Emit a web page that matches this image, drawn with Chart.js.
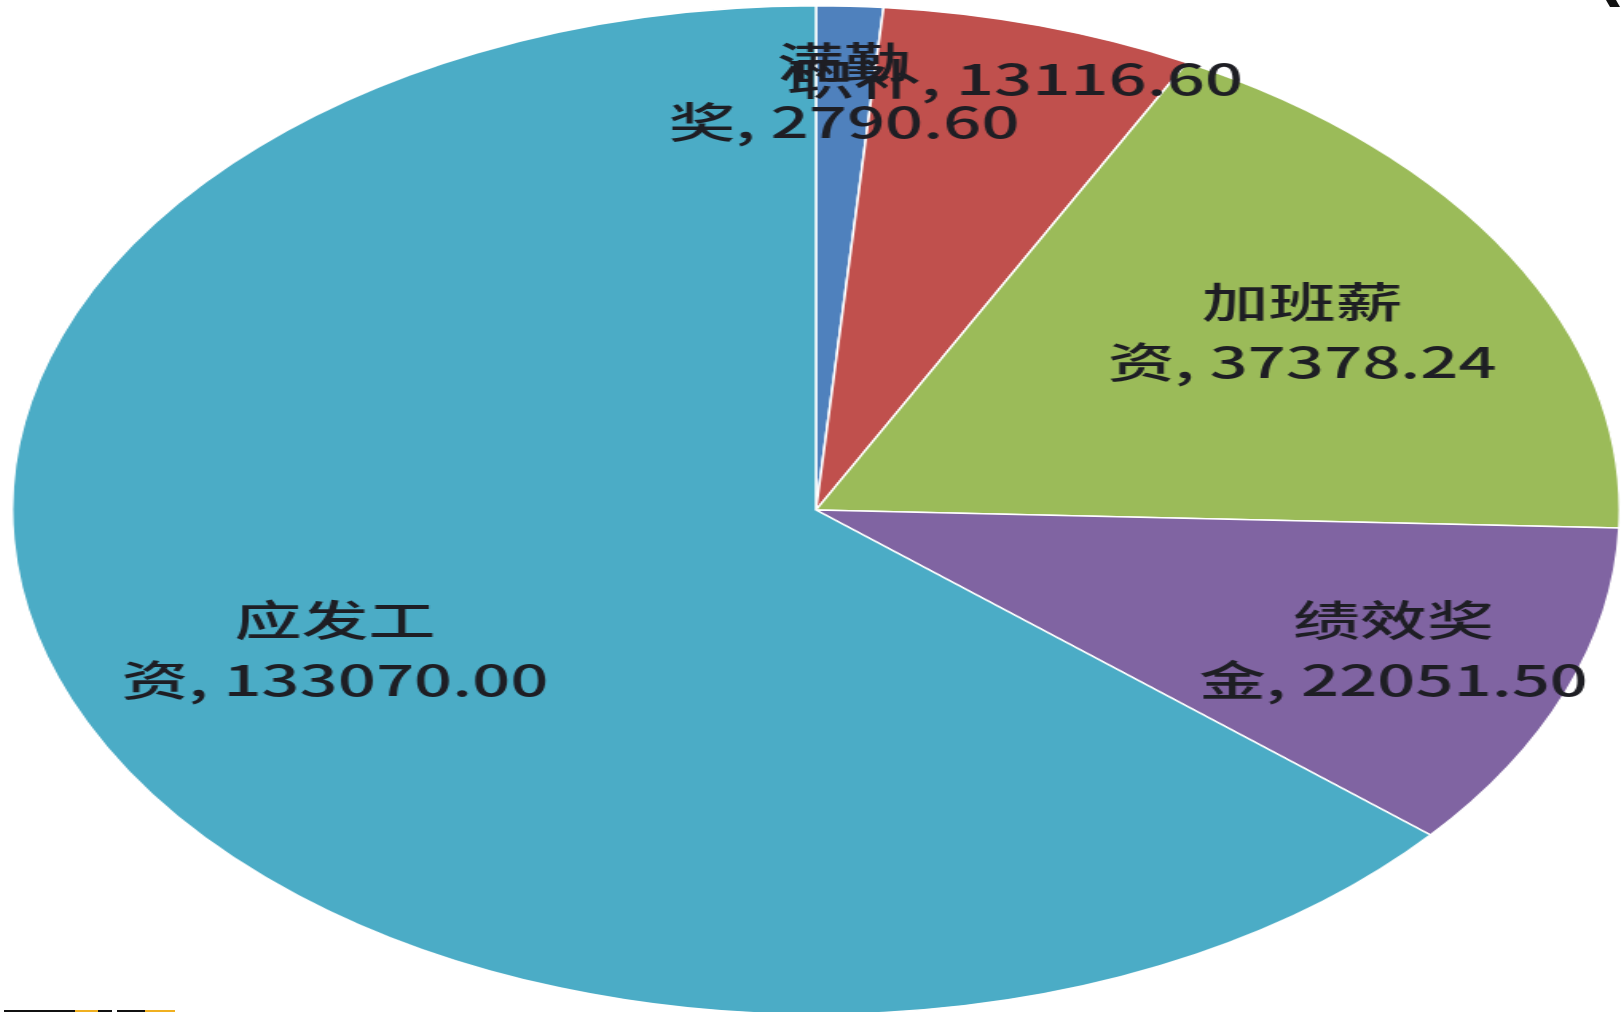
<!DOCTYPE html>
<html lang="zh">
<head>
  <meta charset="UTF-8">
  <title>工资构成</title>
  <script src="https://cdn.jsdelivr.net/npm/chart.js"></script>
  <style>
    html, body { margin: 0; padding: 0; background: #fff; overflow: hidden; }
    body { width: 1623px; height: 1012px; position: relative; }
    /* pie is drawn round, then stretched into the ellipse of the original */
    #wrap { position: absolute; left: 11px; top: 5px; width: 1010px; height: 1010px;
            transform: scale(1.594, 1); transform-origin: 0 0; }
    .mark { position: absolute; height: 2px; }
  </style>
</head>
<body>
  <div id="wrap"><canvas id="payChart"></canvas></div>
  <!-- small leftovers visible at the edges of the picture -->
  <div class="mark" style="left:4px;top:1010px;width:71px;background:#111"></div>
  <div class="mark" style="left:75px;top:1010px;width:23px;background:#f0b020"></div>
  <div class="mark" style="left:98px;top:1010px;width:14px;background:#111"></div>
  <div class="mark" style="left:117px;top:1010px;width:28px;background:#111"></div>
  <div class="mark" style="left:145px;top:1010px;width:30px;background:#f0b020"></div>
  <div style="position:absolute;left:1608px;top:0;width:10px;height:7px;background:#111;transform:skewX(30deg)"></div>

  <script>
    const categories = ['满勤奖', '职补', '加班薪资', '绩效奖金', '应发工资'];
    const amounts = [2790.60, 13116.60, 37378.24, 22051.50, 133070.00];
    const sliceColors = ['#4f81bd', '#c0504d', '#9bbb59', '#8064a2', '#4bacc6'];

    // how far out (share of radius) each label sits
    const labelRadius = [0.83, 0.89, 0.70, 0.77, 0.66];

    function labelLines(name, value) {
      const v = value.toFixed(2);
      if (name.length < 3) return [name + ', ' + v];
      // Excel wrapped the last character of the name onto the value line
      return [name.slice(0, -1), name.slice(-1) + ', ' + v];
    }

    const sliceLabels = {
      id: 'sliceLabels',
      afterDatasetsDraw(chart) {
        const ctx = chart.ctx;
        const meta = chart.getDatasetMeta(0);
        ctx.save();
        ctx.font = '500 42px "Noto Sans CJK SC", "Noto Sans", sans-serif';
        ctx.fillStyle = '#1e1e24';
        ctx.textAlign = 'center';
        ctx.textBaseline = 'middle';
        meta.data.forEach((arc, i) => {
          const mid = (arc.startAngle + arc.endAngle) / 2;
          const r = arc.outerRadius * labelRadius[i];
          const x = arc.x + Math.cos(mid) * r;
          const y = arc.y + Math.sin(mid) * r;
          const lines = labelLines(categories[i], amounts[i]);
          const lh = 60;
          const y0 = y - (lines.length - 1) * lh / 2;
          lines.forEach((t, k) => ctx.fillText(t, x, y0 + k * lh));
        });
        ctx.restore();
      }
    };

    new Chart(document.getElementById('payChart'), {
      type: 'pie',
      data: {
        labels: categories,
        datasets: [{
          data: amounts,
          backgroundColor: sliceColors,
          borderColor: '#ffffff',
          borderWidth: 1.5
        }]
      },
      options: {
        responsive: true,
        maintainAspectRatio: true,
        aspectRatio: 1,
        animation: false,
        layout: { padding: 0 },
        plugins: {
          legend: { display: false },
          tooltip: { enabled: false }
        }
      },
      plugins: [sliceLabels]
    });
  </script>
</body>
</html>
